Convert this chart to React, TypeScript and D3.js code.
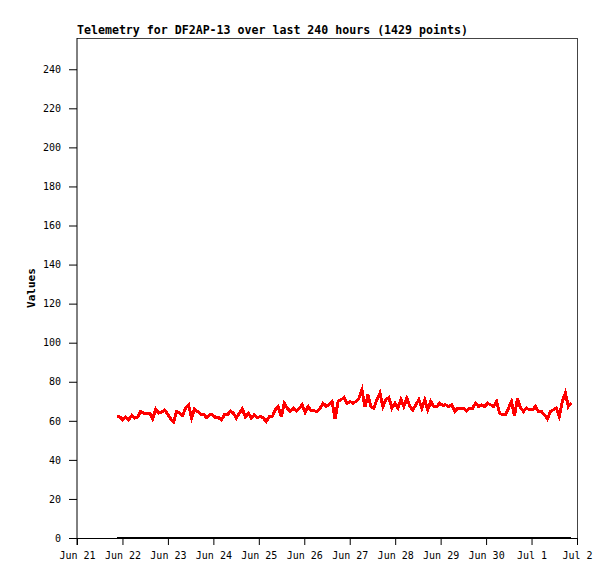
import * as d3 from "d3";
import { useEffect, useRef } from "react";

// telemetry readings, one every ~1.58 h starting Jun 21 21:00
const values = [
  62.0, 62.0, 60.5, 62.0, 60.5, 62.7, 61.4, 62.0, 64.8, 63.9, 63.9, 63.9, 61.0,
  66.0, 63.9, 64.5, 65.5, 63.6, 61.0, 59.3, 64.8, 63.9, 62.7, 66.5, 68.2, 61.5,
  66.0, 64.8, 63.4, 63.4, 61.7, 63.1, 63.1, 61.7, 61.7, 60.4, 63.1, 63.1, 65.0,
  63.9, 61.4, 63.9, 66.1, 62.0, 63.9, 61.4, 63.1, 61.7, 62.2, 61.4, 59.7, 62.2,
  62.2, 65.6, 67.3, 62.0, 69.0, 66.5, 64.8, 66.5, 65.0, 66.5, 68.2, 64.4, 67.3,
  65.1, 65.1, 64.8, 66.5, 69.0, 67.5, 68.2, 69.9, 61.0, 69.9, 70.8, 71.9, 69.0,
  69.9, 69.0, 69.9, 71.6, 75.9, 67.0, 73.3, 67.3, 66.5, 71.0, 74.2, 67.3, 71.0,
  71.9, 66.5, 69.0, 66.5, 71.0, 67.3, 71.6, 67.3, 65.6, 68.2, 70.8, 66.5, 70.8,
  65.6, 70.0, 67.3, 67.3, 69.0, 67.9, 68.2, 67.3, 68.2, 64.8, 66.5, 66.5, 66.5,
  65.1, 66.5, 66.5, 69.0, 67.3, 68.2, 67.3, 69.0, 68.2, 67.3, 69.9, 63.9, 63.1,
  63.1, 66.5, 69.9, 62.5, 71.6, 66.5, 64.8, 66.5, 65.6, 65.6, 67.3, 64.8, 64.8,
  63.1, 61.0, 64.8, 65.6, 66.5, 62.2, 70.0, 74.2, 67.3, 69.0,
];
const startTime = Date.UTC(2024, 5, 21, 21, 0);
const spanHours = 240;
const dayTicks = [
  [5, 21], [5, 22], [5, 23], [5, 24], [5, 25], [5, 26],
  [5, 27], [5, 28], [5, 29], [5, 30], [6, 1], [6, 2],
];
const yTicks = [0, 20, 40, 60, 80, 100, 120, 140, 160, 180, 200, 220, 240];
const title = "Telemetry for DF2AP-13 over last 240 hours (1429 points)";

const mono = "'DejaVu Sans Mono', monospace";

function App() {
  const ref = useRef<SVGSVGElement>(null);

  useEffect(() => {
    const margin = { top: 38, right: 38, bottom: 41, left: 77 },
      width = 615 - margin.left - margin.right,
      height = 579 - margin.top - margin.bottom;

    const root = d3.select(ref.current);
    root.selectAll("*").remove();
    const svg = root
      .append("g")
      .attr("transform", `translate(${margin.left},${margin.top})`);

    const step = (spanHours * 3600 * 1000) / (values.length - 1);
    const data = values.map((v, i) => ({ t: new Date(startTime + i * step), v }));

    const x = d3
      .scaleUtc()
      .domain([new Date(Date.UTC(2024, 5, 21)), new Date(Date.UTC(2024, 6, 2))])
      .range([0, width]);
    const y = d3.scaleLinear().domain([0, 256]).range([height, 0]);

    // grey frame top/right
    svg
      .append("path")
      .attr("d", `M0,0.5H${width + 0.5}V${height}`)
      .attr("fill", "none")
      .attr("stroke", "#444")
      .attr("stroke-width", 1.2)
      .attr("shape-rendering", "crispEdges");

    const xAxis = svg
      .append("g")
      .attr("transform", `translate(0,${height})`)
      .call(
        d3
          .axisBottom(x)
          .tickValues(dayTicks.map(([m, d]) => new Date(Date.UTC(2024, m, d))))
          .tickFormat((d) => d3.utcFormat("%b %-d")(d as Date))
          .tickSize(7)
          .tickPadding(7)
          .tickSizeOuter(0)
      );
    xAxis.select(".domain").attr("stroke", "#000");
    xAxis.selectAll("text").style("font-family", mono).style("font-size", "10px");

    const yAxis = svg.append("g").call(
      d3
        .axisLeft(y)
        .tickValues(yTicks)
        .tickSize(8)
        .tickPadding(8)
        .tickSizeOuter(0)
    );
    yAxis.select(".domain").attr("d", `M0,${height + 7}V0`).attr("stroke", "#000");
    yAxis.selectAll("text").style("font-family", mono).style("font-size", "10px");

    // zero series
    svg
      .append("path")
      .datum(data)
      .attr("fill", "none")
      .attr("stroke", "#000")
      .attr("stroke-width", 2)
      .attr("shape-rendering", "crispEdges")
      .attr(
        "d",
        d3
          .line<{ t: Date; v: number }>()
          .x((d) => x(d.t))
          .y(() => y(0))
      );

    svg
      .append("path")
      .datum(data)
      .attr("fill", "none")
      .attr("stroke", "#ff0000")
      .attr("stroke-width", 3)
      .attr("shape-rendering", "crispEdges")
      .attr(
        "d",
        d3
          .line<{ t: Date; v: number }>()
          .x((d) => x(d.t))
          .y((d) => y(d.v))
      );

    svg
      .append("text")
      .attr("x", 0)
      .attr("y", -4)
      .text(title)
      .style("font-family", mono)
      .style("font-weight", "bold")
      .style("font-size", "11.6px");

    svg
      .append("text")
      .attr("transform", `translate(-42,${height / 2}) rotate(-90)`)
      .style("text-anchor", "middle")
      .text("Values")
      .style("font-family", mono)
      .style("font-weight", "bold")
      .style("font-size", "11px");
  }, []);

  return (
    <div style={{ position: "absolute", left: 0, top: 0 }}>
      <svg width={615} height={579} ref={ref} style={{ display: "block", background: "#fff" }} />
    </div>
  );
}

export default App;
